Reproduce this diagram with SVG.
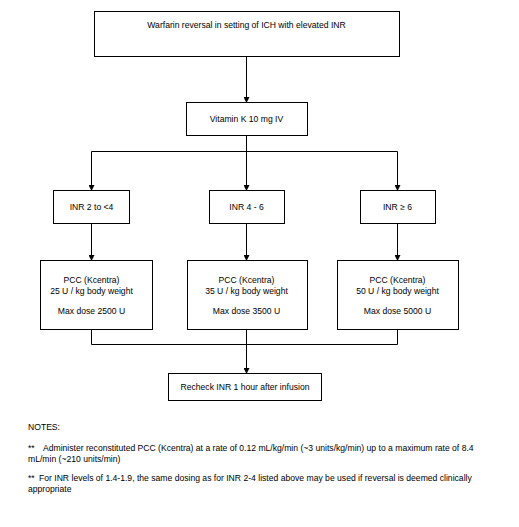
<svg xmlns="http://www.w3.org/2000/svg" width="519" height="527" viewBox="0 0 519 527">
<style>
.box{fill:#fff;stroke:#000;stroke-width:1}
.t{font-family:"Liberation Sans",Arial,sans-serif;font-size:8.6px;fill:#000}
.c{text-anchor:middle}
.ln{fill:none;stroke:#000;stroke-width:1}
</style>
<defs>
<marker id="ah" markerWidth="6" markerHeight="6" refX="5" refY="3" orient="auto" markerUnits="userSpaceOnUse">
<path d="M0,0 L6,3 L0,6 Z" fill="#000"/>
</marker>
</defs>
<rect width="519" height="527" fill="#fff"/>
<g id="connectors">
<path class="ln" d="M246.5,57 V102" marker-end="url(#ah)"/>
<path class="ln" d="M246.5,136 V151.5"/>
<path class="ln" d="M91.5,151.5 H397.5"/>
<path class="ln" d="M91.5,151.5 V190" marker-end="url(#ah)"/>
<path class="ln" d="M246.5,151.5 V190" marker-end="url(#ah)"/>
<path class="ln" d="M397.5,151.5 V190" marker-end="url(#ah)"/>
<path class="ln" d="M91.5,224 V260" marker-end="url(#ah)"/>
<path class="ln" d="M246.5,224 V260" marker-end="url(#ah)"/>
<path class="ln" d="M397.5,224 V260" marker-end="url(#ah)"/>
<path class="ln" d="M91.5,330 V344.5 H397.5 V330"/>
<path class="ln" d="M246.5,330 V373" marker-end="url(#ah)"/>
</g>
<g id="n-start">
<rect class="box" x="94.5" y="11.5" width="305" height="45"/>
<text class="t c" x="246.5" y="28">Warfarin reversal in setting of ICH with elevated INR</text>
</g>
<g id="n-vitk">
<rect class="box" x="186.5" y="102.5" width="121" height="33"/>
<text class="t c" x="246.5" y="122">Vitamin K 10 mg IV</text>
</g>
<g id="n-inr1">
<rect class="box" x="53.5" y="190.5" width="76" height="33"/>
<text class="t c" x="91.5" y="210">INR 2 to &lt;4</text>
</g>
<g id="n-inr2">
<rect class="box" x="209.5" y="190.5" width="75" height="33"/>
<text class="t c" x="246.5" y="210">INR 4 - 6</text>
</g>
<g id="n-inr3">
<rect class="box" x="360.5" y="190.5" width="75" height="33"/>
<text class="t c" x="397.5" y="210">INR ≥ 6</text>
</g>
<g id="n-pcc1">
<rect class="box" x="40.5" y="260.5" width="112" height="69"/>
<text class="t c" x="91.5" y="283">PCC (Kcentra)</text>
<text class="t c" x="91.5" y="294">25 U / kg body weight</text>
<text class="t c" x="91.5" y="314">Max dose 2500 U</text>
</g>
<g id="n-pcc2">
<rect class="box" x="187.5" y="260.5" width="120" height="69"/>
<text class="t c" x="246.5" y="283">PCC (Kcentra)</text>
<text class="t c" x="246.5" y="294">35 U / kg body weight</text>
<text class="t c" x="246.5" y="314">Max dose 3500 U</text>
</g>
<g id="n-pcc3">
<rect class="box" x="337.5" y="260.5" width="121" height="69"/>
<text class="t c" x="397.5" y="283">PCC (Kcentra)</text>
<text class="t c" x="397.5" y="294">50 U / kg body weight</text>
<text class="t c" x="397.5" y="314">Max dose 5000 U</text>
</g>
<g id="n-recheck">
<rect class="box" x="168.5" y="373.5" width="153" height="27"/>
<text class="t c" x="245" y="390">Recheck INR 1 hour after infusion</text>
</g>
<g id="notes">
<text class="t" x="28" y="430">NOTES:</text>
<text class="t" x="28" y="451">**<tspan x="43">Administer reconstituted PCC (Kcentra) at a rate of 0.12 mL/kg/min (~3 units/kg/min) up to a maximum rate of 8.4</tspan></text>
<text class="t" x="28" y="462">mL/min (~210 units/min)</text>
<text class="t" x="28" y="481">**<tspan x="39">For INR levels of 1.4-1.9, the same dosing as for INR 2-4 listed above may be used if reversal is deemed clinically</tspan></text>
<text class="t" x="28" y="492">appropriate</text>
</g>
</svg>
